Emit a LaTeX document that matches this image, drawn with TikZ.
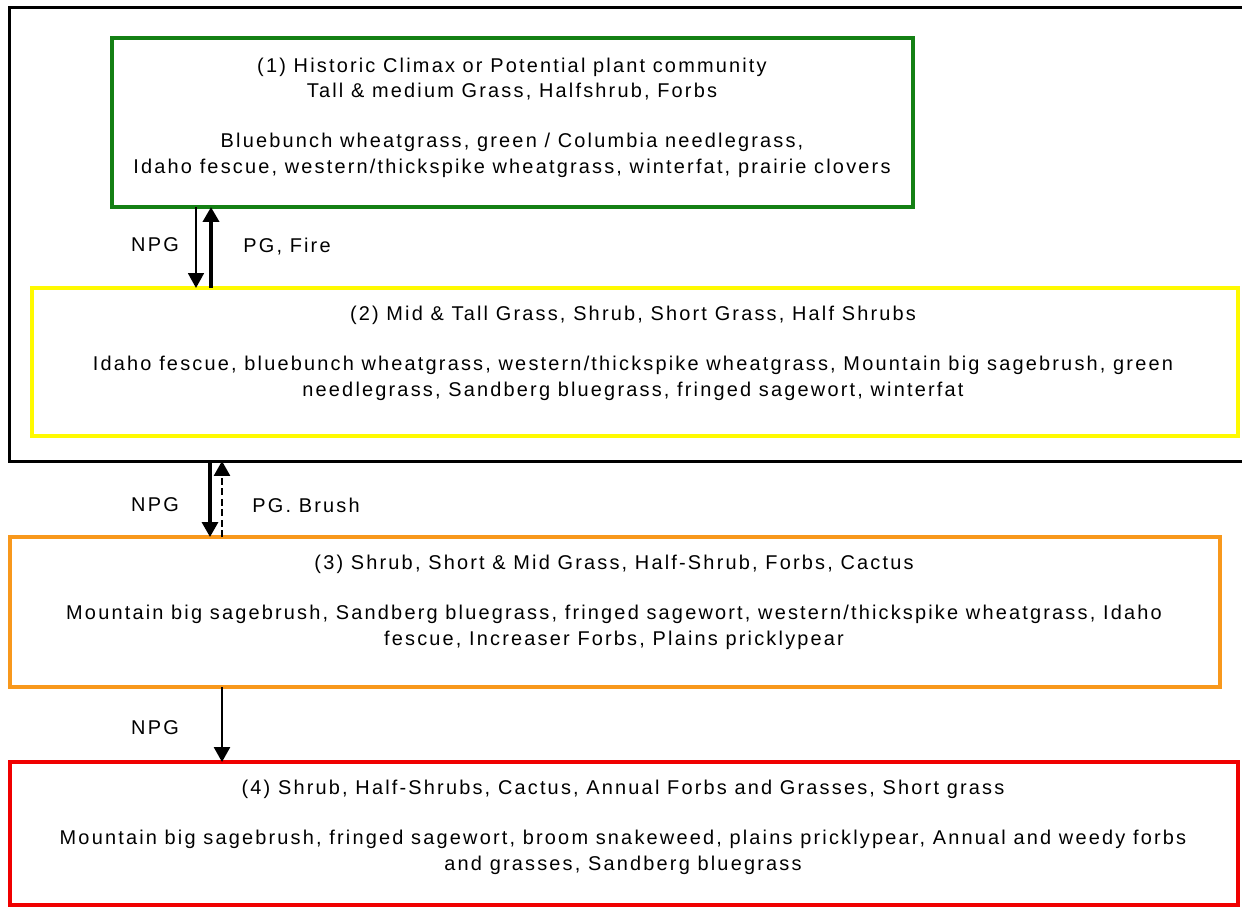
\documentclass[tikz,border=0pt]{standalone}
\usepackage{fontspec}
\setmainfont[LetterSpace=11]{Liberation Sans}
\usetikzlibrary{arrows.meta}

\definecolor{climaxgreen}{RGB}{20,128,20}
\definecolor{stateyellow}{RGB}{255,250,0}
\definecolor{stateorange}{RGB}{248,152,28}
\definecolor{statered}{RGB}{240,0,0}

\tikzset{
  statebox/.style={draw=#1, line width=4bp, inner sep=0pt, outer sep=0pt},
  boxtext/.style={align=center, inner sep=0pt, font=\fontsize{20}{25.5}\selectfont},
  trlabel/.style={inner sep=0pt, font=\fontsize{20}{25}\selectfont},
  npg/.style={-{Triangle[width=16pt,length=15pt]}, line width=2bp},
}

\begin{document}
\begin{tikzpicture}[x=1bp,y=-1bp]
\useasboundingbox (0,0) rectangle (1242,912);
\clip (0,0) rectangle (1242,912);

% reference state and its neighbour
\node[statebox=black, line width=3bp, minimum width=1260bp, minimum height=453bp] (frame) at (640,234.5) {};
\node[statebox=climaxgreen, minimum width=801bp, minimum height=169bp] (s1) at (512.5,122.5) {};
\node[statebox=stateyellow, minimum width=1206bp, minimum height=148bp] (s2) at (635,362) {};

% states outside
\node[statebox=stateorange, minimum width=1210bp, minimum height=150bp] (s3) at (615,612) {};
\node[statebox=statered, minimum width=1228bp, minimum height=143bp] (s4) at (624,833.5) {};

% texts
\node[boxtext] (t1) at (512,117.5) {(1) Historic Climax or Potential plant community\\
  Tall \& medium Grass, Halfshrub, Forbs\\[25bp]
  Bluebunch wheatgrass, green / Columbia needlegrass,\\
  Idaho fescue, western/thickspike wheatgrass, winterfat, prairie clovers};
\node[boxtext] (t2) at (633,353) {(2) Mid \& Tall Grass, Shrub, Short Grass, Half Shrubs\\[25bp]
  Idaho fescue, bluebunch wheatgrass, western/thickspike wheatgrass, Mountain big sagebrush, green\\
  needlegrass, Sandberg bluegrass, fringed sagewort, winterfat};
\node[boxtext] (t3) at (614,602) {(3) Shrub, Short \& Mid Grass, Half-Shrub, Forbs, Cactus\\[25bp]
  Mountain big sagebrush, Sandberg bluegrass, fringed sagewort, western/thickspike wheatgrass, Idaho\\
  fescue, Increaser Forbs, Plains pricklypear};
\node[boxtext] (t4) at (623,827) {(4) Shrub, Half-Shrubs, Cactus, Annual Forbs and Grasses, Short grass\\[25bp]
  Mountain big sagebrush, fringed sagewort, broom snakeweed, plains pricklypear, Annual and weedy forbs\\
  and grasses, Sandberg bluegrass};

% transitions
\draw[npg] (196,0 |- s1.south) -- (196,0 |- s2.north);
\draw[npg, line width=4bp] (211,0 |- s2.north) -- (211,0 |- s1.south);
\draw[npg, line width=3.3bp] (210,0 |- frame.south) -- (210,0 |- s3.north);
\draw[npg, line width=2.7bp, dash pattern=on 7bp off 3.5bp] (222,0 |- s3.north) -- (222,0 |- frame.south);
\draw[npg, line width=2.7bp] (222,0 |- s3.south) -- (222,0 |- s4.north);

\node[trlabel] (l1) at (155,245) {NPG};
\node[trlabel] (l2) at (287,247) {PG, Fire};
\node[trlabel] (l3) at (155,505) {NPG};
\node[trlabel] (l4) at (306,505) {PG. Brush};
\node[trlabel] (l5) at (155,728) {NPG};
\end{tikzpicture}
\end{document}
